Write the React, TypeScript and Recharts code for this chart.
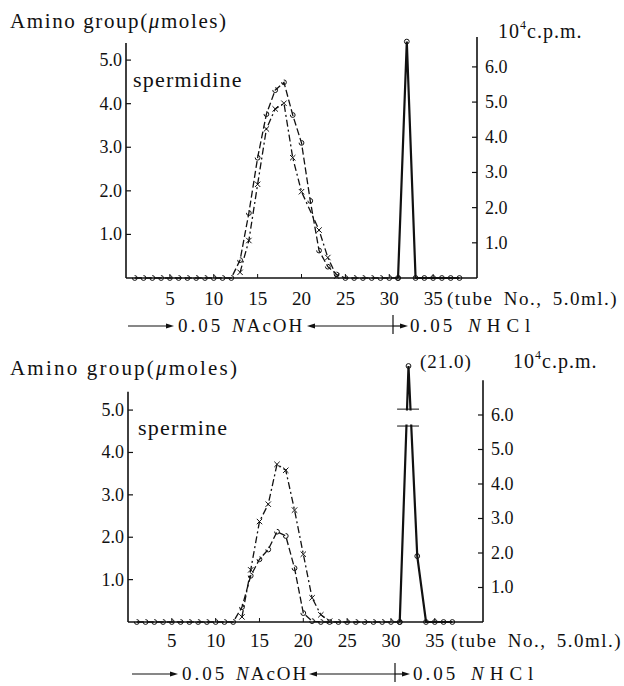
import React from "react";
import { LineChart, Line, XAxis, YAxis, ReferenceLine } from "recharts";

// tube numbers (5.0 ml fractions)
const tubes = [1, 2, 3, 4, 5, 6, 7, 8, 9, 10, 11, 12, 13, 14, 15, 16, 17, 18, 19, 20,
  21, 22, 23, 24, 25, 26, 27, 28, 29, 30, 31, 32, 33, 34, 35, 36, 37, 38];
const xTicks = [5, 10, 15, 20, 25, 30, 35];
const leftTicks = [1, 2, 3, 4, 5];
const rightTicks = [1, 2, 3, 4, 5, 6];

// spermidine: amino group (o), second amino curve (x), radioactivity 10^4 c.p.m.
const spdAmino = [0, 0, 0, 0, 0, 0, 0, 0, 0, 0, 0, 0,
  0.41, 1.49, 2.76, 3.76, 4.31, 4.49, 3.74, 3.10, 1.77, 0.63, 0.26, 0.08,
  0, 0, 0, 0, 0, 0, 0, null, null, null, null, null, null, null];
const spdCross = [null, null, null, null, null, null, null, null, null, null, null, null,
  0.13, 0.86, 2.15, 3.42, 3.88, 4.01, 2.76, 1.98, null, 1.10, 0.47, 0.04,
  null, null, null, null, null, null, null, null, null, null, null, null, null, null];
const spdCpm = [null, null, null, null, null, null, null, null, null, null,
  null, null, null, null, null, null, null, null, null, null,
  null, null, null, null, null, null, null, null, null, null,
  0, 6.72, 0, 0, 0, 0, 0, 0];

// spermine
const spmAmino = [0, 0, 0, 0, 0, 0, 0, 0, 0, 0, 0, 0,
  0.35, 1.09, 1.48, 1.71, 2.13, 2.03, 1.27, 0.21, 0.02,
  0, 0, 0, 0, 0, 0, 0, 0, 0, 0, null, null, null, null, null, null, null];
const spmCross = [null, null, null, null, null, null, null, null, null, null, null, null,
  0.12, 1.23, 2.37, 2.78, 3.72, 3.58, 2.64, 1.60, 0.57, 0.17, 0.02,
  null, null, null, null, null, null, null, null, null, null, null, null, null, null, null];
// peak is off scale (21.0), drawn at the top of the broken axis
const spmCpm = [null, null, null, null, null, null, null, null, null, null,
  null, null, null, null, null, null, null, null, null, null,
  null, null, null, null, null, null, null, null, null, null,
  0, 7.42, 1.91, 0, 0, 0, 0, null];
const spmBreak = [5.68, 6.17];

const FONT = "'Liberation Serif', 'DejaVu Serif', serif";
const INK = "#111";

const circleDot = { r: 2.4, fill: "none", stroke: INK, strokeWidth: 1 };

const CrossDot = (p: any) => {
  const { cx, cy, index } = p;
  if (cx == null || cy == null || p.value == null) return <g key={"c" + index} />;
  const s = 2.7;
  return (
    <path key={"c" + index}
      d={`M${cx - s},${cy - s}L${cx + s},${cy + s}M${cx - s},${cy + s}L${cx + s},${cy - s}`}
      stroke={INK} strokeWidth={1} fill="none" />
  );
};

const LeftTick = (p: any) => (
  <g>
    <line x1={p.x} y1={p.y} x2={p.x + 5} y2={p.y} stroke={INK} strokeWidth={1.2} />
    <text x={p.x - 4} y={p.y + 6} textAnchor="end" fontFamily={FONT} fontSize={18} fill={INK}>
      {Number(p.payload.value).toFixed(1)}
    </text>
  </g>
);

const RightTick = (p: any) => (
  <g>
    <line x1={p.x} y1={p.y} x2={p.x - 5} y2={p.y} stroke={INK} strokeWidth={1.2} />
    <text x={p.x + 8} y={p.y + 6} textAnchor="start" fontFamily={FONT} fontSize={18} fill={INK}>
      {Number(p.payload.value).toFixed(1)}
    </text>
  </g>
);

const makeXTick = (dy: number) => (p: any) => (
  <g>
    <line x1={p.x} y1={p.y} x2={p.x} y2={p.y - 4} stroke={INK} strokeWidth={1} />
    <text x={p.x} y={p.y + dy} textAnchor="middle" fontFamily={FONT} fontSize={19} fill={INK}>
      {p.payload.value}
    </text>
  </g>
);

interface PanelProps {
  amino: (number | null)[];
  cross: (number | null)[];
  cpm: (number | null)[];
  top: number;
  height: number;
  marginTop: number;
  leftW: number;
  rightW: number;
  xMax: number;
  leftMax: number;
  rightMax: number;
  leftAxisTop: number;
  rightAxisTop: number;
  tickDy: number;
  brk?: number[];
}

const Panel = (props: PanelProps) => {
  const data = tubes.map((t, i) => ({
    tube: t,
    amino: props.amino[i],
    cross: props.cross[i],
    cpm: props.cpm[i],
  }));
  return (
    <div style={{ position: "absolute", left: 0, top: props.top }}>
      <LineChart width={624} height={props.height} data={data}
        margin={{ top: props.marginTop, right: 0, bottom: 12, left: 0 }}>
        <XAxis dataKey="tube" type="number" domain={[0, props.xMax]} ticks={xTicks} interval={0}
          height={30} axisLine={{ stroke: INK, strokeWidth: 1.6 }} tickLine={false}
          tickSize={0} tickMargin={0} tick={makeXTick(props.tickDy)} />
        <YAxis yAxisId="left" orientation="left" type="number" width={props.leftW}
          domain={[0, props.leftMax]} ticks={leftTicks} interval={0} axisLine={false}
          tickLine={false} tickSize={0} tickMargin={0} tick={LeftTick} />
        <YAxis yAxisId="right" orientation="right" type="number" width={props.rightW}
          domain={[0, props.rightMax]} ticks={rightTicks} interval={0} axisLine={false}
          tickLine={false} tickSize={0} tickMargin={0} tick={RightTick} />
        <ReferenceLine yAxisId="left" segment={[{ x: 0, y: 0 }, { x: 0, y: props.leftAxisTop }]}
          stroke={INK} strokeWidth={1.6} ifOverflow="visible" />
        <ReferenceLine yAxisId="right"
          segment={[{ x: props.xMax, y: 0 }, { x: props.xMax, y: props.rightAxisTop }]}
          stroke={INK} strokeWidth={1.6} ifOverflow="visible" />
        <Line yAxisId="left" dataKey="amino" stroke={INK} strokeWidth={1.3}
          strokeDasharray="7 3" dot={circleDot} activeDot={false} isAnimationActive={false} />
        <Line yAxisId="left" dataKey="cross" stroke={INK} strokeWidth={1.3}
          strokeDasharray="7 3 2 3" dot={CrossDot} activeDot={false} connectNulls
          isAnimationActive={false} />
        <Line yAxisId="right" dataKey="cpm" stroke={INK} strokeWidth={2.2}
          dot={circleDot} activeDot={false} isAnimationActive={false} />
        {props.brk && props.brk.map((b) => (
          <ReferenceLine key={b} yAxisId="right" segment={[{ x: 30.7, y: b }, { x: 33.2, y: b }]}
            stroke={INK} strokeWidth={1} ifOverflow="visible" />
        ))}
      </LineChart>
    </div>
  );
};

const Arrow = ({ x1, x2, y }: { x1: number; x2: number; y: number }) => {
  const d = x2 > x1 ? 1 : -1;
  return (
    <g>
      <line x1={x1} y1={y} x2={x2 - d * 4} y2={y} stroke={INK} strokeWidth={1.2} />
      <polygon points={`${x2},${y} ${x2 - d * 8},${y - 2.5} ${x2 - d * 8},${y + 2.5}`} fill={INK} />
    </g>
  );
};

const txt = { fontFamily: FONT, fill: INK };

const Eluent = ({ y, a, b, c }: { y: number; a: number; b: number; c: number }) => (
  <g>
    <Arrow x1={a - 50} x2={a - 4} y={y - 6} />
    <text x={a} y={y} fontSize={19} letterSpacing={3} {...txt}>0.05</text>
    <text x={a + 54} y={y} fontSize={19} letterSpacing={2} {...txt}>
      <tspan fontStyle="italic">N</tspan>AcOH
    </text>
    <Arrow x1={b} x2={b - 86} y={y - 6} />
    <line x1={b} y1={y - 17} x2={b} y2={y + 2} stroke={INK} strokeWidth={1.2} />
    <Arrow x1={b} x2={b + 15} y={y - 6} />
    <text x={c} y={y} fontSize={19} letterSpacing={3} {...txt}>0.05</text>
    <text x={c + 58} y={y} fontSize={19} letterSpacing={6} {...txt}>
      <tspan fontStyle="italic">N</tspan>HCl
    </text>
  </g>
);

const Cpm = ({ x, y }: { x: number; y: number }) => (
  <text x={x} y={y} fontSize={20} letterSpacing={1} {...txt}>
    10<tspan fontSize={12} dy={-9}>4</tspan><tspan dy={9}>c.p.m.</tspan>
  </text>
);

const Overlay = () => (
  <svg width={624} height={686} style={{ position: "absolute", left: 0, top: 0, pointerEvents: "none" }}>
    {/* top panel */}
    <text x={10} y={28} fontSize={21} letterSpacing={1.6} {...txt}>
      Amino group(<tspan fontStyle="italic">μ</tspan>moles)
    </text>
    <Cpm x={498} y={38} />
    <text x={133} y={87} fontSize={22} letterSpacing={1.2} {...txt}>spermidine</text>
    <text x={447} y={305} fontSize={19} letterSpacing={1.5} wordSpacing={4} {...txt}>
      (tube No., 5.0ml.)
    </text>
    <Eluent y={332} a={178} b={393} c={410} />

    {/* bottom panel */}
    <text x={10} y={375} fontSize={21} letterSpacing={2.2} {...txt}>
      Amino group(<tspan fontStyle="italic">μ</tspan>moles)
    </text>
    {/* gap of the broken c.p.m. axis */}
    <rect x={401} y={410.5} width={19} height={14} fill="#fff" />
    <text x={420} y={368} fontSize={19} letterSpacing={1} {...txt}>(21.0)</text>
    <Cpm x={513} y={368} />
    <text x={138} y={435} fontSize={22} letterSpacing={1.2} {...txt}>spermine</text>
    <text x={451} y={647} fontSize={19} letterSpacing={1.5} wordSpacing={4} {...txt}>
      (tube No., 5.0ml.)
    </text>
    <Eluent y={680} a={182} b={395} c={413} />
  </svg>
);

export default function App() {
  return (
    <div style={{ position: "absolute", left: 0, top: 0, width: 624, height: 686, background: "#fff", overflow: "hidden" }}>
      <Panel amino={spdAmino} cross={spdCross} cpm={spdCpm} top={0} height={320} marginTop={37}
        leftW={126} rightW={147} xMax={40} leftMax={5.53} rightMax={6.85} leftAxisTop={5.39}
        rightAxisTop={6.85} tickDy={27} />
      <Panel amino={spmAmino} cross={spmCross} cpm={spmCpm} top={340} height={324} marginTop={26}
        leftW={128} rightW={141} xMax={40.5} leftMax={6.04} rightMax={7.42} leftAxisTop={5.43}
        rightAxisTop={7.01} tickDy={25} brk={spmBreak} />
      <Overlay />
    </div>
  );
}
